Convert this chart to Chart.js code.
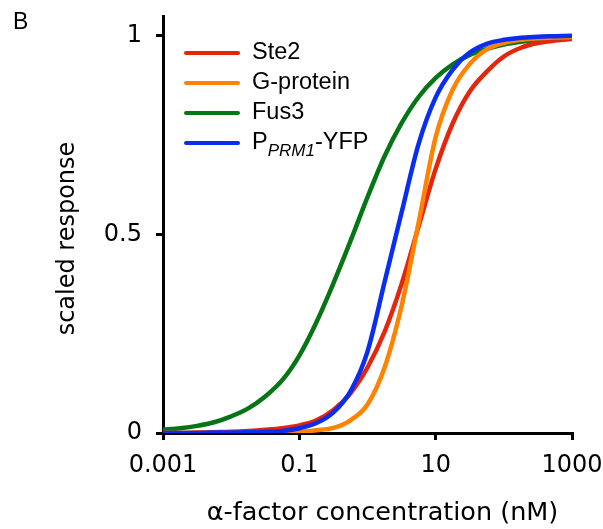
<!DOCTYPE html>
<html>
<head>
<meta charset="utf-8">
<script src="https://cdn.jsdelivr.net/npm/chart.js@4"></script>
<style>
    html, body { margin: 0; padding: 0; background: #fff; }
</style>
</head>
<body>
<canvas id="myChart" width="603" height="529"></canvas>
<script>
// dose response data
var concentrations = [0.001, 0.00178, 0.00316, 0.00562, 0.01, 0.0178, 0.0316, 0.0562, 0.1, 0.178, 0.316, 0.562,
    1, 1.78, 3.16, 5.62, 10, 17.8, 31.6, 56.2, 100, 178, 316, 562, 1000];
var ste2 = [0, 0, 0.001, 0.002, 0.003, 0.005, 0.008, 0.012, 0.019, 0.032, 0.058, 0.1,
    0.165, 0.255, 0.375, 0.52, 0.665, 0.78, 0.86, 0.91, 0.948, 0.97, 0.982, 0.988, 0.992];
var gProtein = [0, 0, 0, 0, 0, 0, 0.001, 0.001, 0.003, 0.007, 0.013, 0.032,
    0.072, 0.165, 0.32, 0.53, 0.745, 0.865, 0.929, 0.966, 0.982, 0.99, 0.994, 0.996, 0.997];
var fus3 = [0.008, 0.012, 0.018, 0.027, 0.042, 0.062, 0.092, 0.133, 0.195, 0.279, 0.377, 0.483,
    0.594, 0.697, 0.78, 0.846, 0.894, 0.928, 0.952, 0.967, 0.978, 0.985, 0.99, 0.993, 0.995];
var prm1Yfp = [0, 0, 0, 0.001, 0.001, 0.002, 0.003, 0.005, 0.012, 0.025, 0.052, 0.105,
    0.205, 0.38, 0.555, 0.728, 0.845, 0.915, 0.958, 0.98, 0.99, 0.995, 0.998, 0.999, 1.0];

var seriesNames = ['Ste2', 'G-protein', 'Fus3', 'P{PRM1}-YFP'];
var seriesColors = ['#e3260c', '#ff8200', '#067516', '#0a2ef0'];
var xTicks = [0.001, 0.1, 10, 1000];
var xTickLabels = ['0.001', '0.1', '10', '1000'];
var yTicks = [0, 0.5, 1];
var yTickLabels = ['0', '0.5', '1'];

var tickFont = { family: 'DejaVu Sans', size: 24 };

function makeSeries(vals) {
    return vals.map((v, i) => ({ x: concentrations[i], y: v }));
}

// legend, panel letter and axis titles
const figureText = {
    id: 'figureText',
    afterDraw(chart) {
        const ctx = chart.ctx;
        const area = chart.chartArea;
        ctx.save();
        ctx.fillStyle = '#000';
        ctx.textBaseline = 'alphabetic';

        ctx.font = '23px "Liberation Sans"';
        ctx.textAlign = 'left';
        ctx.fillText('B', 13, 29);

        // x title
        ctx.font = '25.5px "DejaVu Sans"';
        ctx.textAlign = 'center';
        ctx.textBaseline = 'middle';
        ctx.fillText('α-factor concentration (nM)', (area.left + area.right) / 2 + 15, 513);

        // y title
        ctx.save();
        ctx.font = '24px "DejaVu Sans"';
        ctx.translate(68, (area.top + area.bottom) / 2 + 14);
        ctx.rotate(-Math.PI / 2);
        ctx.fillText('scaled response', 0, 0);
        ctx.restore();

        // legend
        ctx.textAlign = 'left';
        ctx.textBaseline = 'middle';
        chart.data.datasets.forEach((ds, i) => {
            let y = area.top + 37 + i * 30;
            ctx.strokeStyle = ds.borderColor;
            ctx.lineWidth = 4;
            ctx.lineCap = 'round';
            ctx.beginPath();
            ctx.moveTo(area.left + 23, y);
            ctx.lineTo(area.left + 75, y);
            ctx.stroke();

            let x = area.left + 89;
            let name = ds.label;
            let m = name.match(/^(.*)\{(.*)\}(.*)$/);
            ctx.fillStyle = '#000';
            if (m) {
                ctx.font = '23.5px "Liberation Sans"';
                ctx.fillText(m[1], x, y);
                x += ctx.measureText(m[1]).width;
                ctx.font = 'italic 17px "Liberation Sans"';
                ctx.fillText(m[2], x, y + 8);
                x += ctx.measureText(m[2]).width;
                ctx.font = '23.5px "Liberation Sans"';
                ctx.fillText(m[3], x, y);
            } else {
                ctx.font = '23.5px "Liberation Sans"';
                ctx.fillText(name, x, y);
            }
        });
        ctx.restore();
    }
};

var allValues = [ste2, gProtein, fus3, prm1Yfp];
var drawOrder = [3, 2, 4, 1];

const data = {
    datasets: allValues.map((vals, i) => ({
        label: seriesNames[i],
        data: makeSeries(vals),
        borderColor: seriesColors[i],
        backgroundColor: seriesColors[i],
        borderWidth: 4.5,
        pointRadius: 0,
        fill: false,
        cubicInterpolationMode: 'monotone',
        order: drawOrder[i]
    }))
};

const config = {
    type: 'line',
    data: data,
    options: {
        responsive: false,
        animation: false,
        devicePixelRatio: 1,
        layout: { padding: { top: 16, right: 31, left: 0, bottom: 0 } },
        plugins: {
            legend: { display: false },
            tooltip: { enabled: false }
        },
        scales: {
            x: {
                type: 'logarithmic',
                min: 0.001,
                max: 1000,
                afterBuildTicks: (scale) => { scale.ticks = xTicks.map(v => ({ value: v })); },
                afterFit: (scale) => {
                    scale.height = 96;
                    scale.paddingLeft = 0;
                    scale.paddingRight = 0;
                },
                ticks: {
                    color: '#000',
                    font: tickFont,
                    padding: 11,
                    maxRotation: 0,
                    autoSkip: false,
                    callback: (val) => xTickLabels[xTicks.indexOf(val)]
                },
                grid: { drawOnChartArea: false, drawTicks: true, tickLength: 7, color: '#000', lineWidth: 3 },
                border: { color: '#000', width: 3 }
            },
            y: {
                min: 0,
                max: 1.05,
                afterBuildTicks: (scale) => { scale.ticks = yTicks.map(v => ({ value: v })); },
                afterFit: (scale) => {
                    scale.width = 163;
                    scale.paddingTop = 0;
                    scale.paddingBottom = 0;
                },
                ticks: {
                    color: '#000',
                    font: tickFont,
                    padding: 14,
                    callback: (val) => yTickLabels[yTicks.indexOf(val)]
                },
                grid: { drawOnChartArea: false, drawTicks: true, tickLength: 7, color: '#000', lineWidth: 3 },
                border: { color: '#000', width: 3 }
            }
        }
    },
    plugins: [figureText]
};

var myChart = new Chart(document.getElementById('myChart'), config);
</script>
</body>
</html>
